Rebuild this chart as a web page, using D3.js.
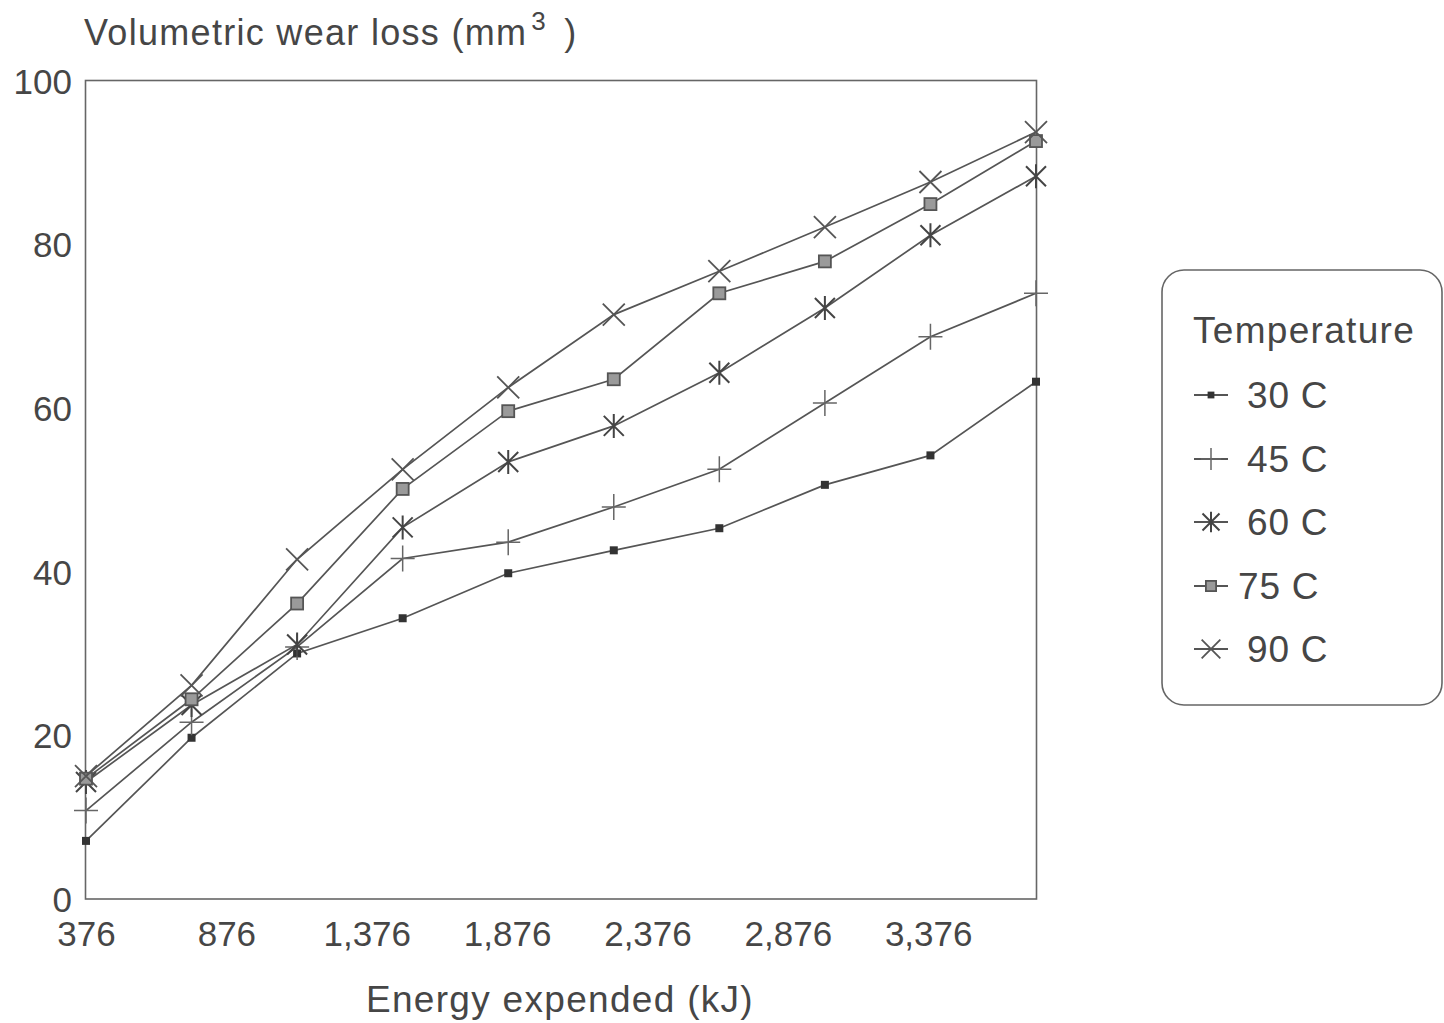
<!DOCTYPE html>
<html>
<head>
<meta charset="utf-8">
<script src="https://cdn.jsdelivr.net/npm/d3@7"></script>
<style>
  html, body { margin: 0; padding: 0; background: #ffffff; }
  svg text { font-family: "Liberation Sans", Arial, Helvetica, sans-serif; fill: #464646; }
</style>
</head>
<body>
<svg id="chart" width="1444" height="1023"></svg>
<script>
// ---- data ----
const energy = [376, 752, 1128, 1504, 1880, 2256, 2632, 3008, 3384, 3760];
const xTickValues = [376, 876, 1376, 1876, 2376, 2876, 3376];
const yTickValues = [0, 20, 40, 60, 80, 100];
const seriesNames = ["30 C", "45 C", "60 C", "75 C", "90 C"];
const markerTypes = ["smallSquare", "plus", "asterisk", "graySquare", "cross"];
const wear30 = [7.1, 19.7, 30.0, 34.3, 39.8, 42.6, 45.3, 50.6, 54.2, 63.2];
const wear45 = [10.8, 21.6, 30.8, 41.6, 43.6, 47.9, 52.5, 60.6, 68.7, 74.0];
const wear60 = [14.3, 23.7, 31.1, 45.4, 53.4, 57.8, 64.3, 72.2, 81.1, 88.3];
const wear75 = [14.7, 24.4, 36.1, 50.1, 59.6, 63.5, 74.0, 77.9, 84.9, 92.6];
const wear90 = [15.0, 26.1, 41.5, 52.5, 62.5, 71.4, 76.7, 82.1, 87.6, 93.7];
const allSeries = [wear30, wear45, wear60, wear75, wear90];

(function () {
// ---- layout ----
const svg = d3.select("#chart");
const pLeft = 85.5, pRight = 1036.5, pTop = 80.5, pBottom = 899;
const x = d3.scaleLinear().domain([376, 3760]).range([pLeft + 0.5, pRight - 0.5]);
const y = d3.scaleLinear().domain([0, 100]).range([pBottom, pTop]);
const lineColor = "#555";

// frame
svg.append("rect")
  .attr("x", pLeft).attr("y", pTop)
  .attr("width", pRight - pLeft).attr("height", pBottom - pTop)
  .attr("fill", "none").attr("stroke", "#666").attr("stroke-width", 1.6);

// x axis labels
const xAxis = d3.axisBottom(x).tickValues(xTickValues).tickSize(0).tickFormat(d3.format(","));
const gx = svg.append("g").attr("transform", `translate(0,${pBottom})`).call(xAxis);
gx.select(".domain").remove();
gx.selectAll("text").attr("font-size", 35).attr("dy", null).attr("y", 47)
  .style("font-family", "'Liberation Sans', Arial, sans-serif").attr("fill", "#464646");

// y axis labels
const yAxis = d3.axisLeft(y).tickValues(yTickValues).tickSize(0).tickFormat(d3.format("d"));
const gy = svg.append("g").attr("transform", `translate(72,0)`).call(yAxis);
gy.select(".domain").remove();
gy.selectAll("text").attr("font-size", 35).attr("x", 0).attr("dy", "0.36em")
  .attr("text-anchor", "end")
  .style("font-family", "'Liberation Sans', Arial, sans-serif").attr("fill", "#464646");

// titles
const yTitle = svg.append("text").attr("x", 84).attr("y", 45).attr("font-size", 36)
  .attr("letter-spacing", 1.3);
yTitle.append("tspan").text("Volumetric wear loss (mm");
yTitle.append("tspan").attr("font-size", 26).attr("dx", 4).attr("dy", -15).text("3");
yTitle.append("tspan").attr("dx", 6).attr("dy", 15).text(" )");

svg.append("text").attr("x", 560).attr("y", 1012).attr("text-anchor", "middle")
  .attr("font-size", 37).attr("letter-spacing", 1.3).text("Energy expended (kJ)");

// marker drawing
function drawMarker(g, type, cx, cy, scale = 1) {
  const s = scale;
  if (type === "smallSquare") {
    g.append("rect").attr("x", cx - 4 * s).attr("y", cy - 4 * s)
      .attr("width", 8 * s).attr("height", 8 * s).attr("fill", "#333");
  } else if (type === "plus") {
    g.append("path").attr("d", `M${cx - 12 * s},${cy}H${cx + 12 * s}M${cx},${cy - 13 * s}V${cy + 13 * s}`)
      .attr("stroke", "#666").attr("stroke-width", 1.5).attr("fill", "none");
  } else if (type === "asterisk") {
    const a = 10 * s;
    g.append("path").attr("d", `M${cx - a},${cy - a}L${cx + a},${cy + a}M${cx - a},${cy + a}L${cx + a},${cy - a}M${cx},${cy - 12 * s}V${cy + 12 * s}`)
      .attr("stroke", "#444").attr("stroke-width", 2).attr("fill", "none");
  } else if (type === "graySquare") {
    g.append("rect").attr("x", cx - 6 * s).attr("y", cy - 6 * s)
      .attr("width", 12 * s).attr("height", 12 * s)
      .attr("fill", "#9a9a9a").attr("stroke", "#555").attr("stroke-width", 1.8);
  } else if (type === "cross") {
    const a = 11 * s;
    g.append("path").attr("d", `M${cx - a},${cy - a}L${cx + a},${cy + a}M${cx - a},${cy + a}L${cx + a},${cy - a}`)
      .attr("stroke", "#555").attr("stroke-width", 1.8).attr("fill", "none");
  }
}

// series
const line = d3.line().x((d, i) => x(energy[i])).y(d => y(d));
allSeries.forEach((vals, si) => {
  const g = svg.append("g");
  g.append("path").datum(vals).attr("d", line)
    .attr("fill", "none").attr("stroke", lineColor).attr("stroke-width", 1.7);
  vals.forEach((v, i) => drawMarker(g, markerTypes[si], x(energy[i]), y(v)));
});

// legend
const lg = svg.append("g");
lg.append("rect").attr("x", 1162).attr("y", 270).attr("width", 280).attr("height", 435)
  .attr("rx", 22).attr("fill", "#fff").attr("stroke", "#666").attr("stroke-width", 1.6);
lg.append("text").attr("x", 1193).attr("y", 343).attr("font-size", 37)
  .attr("letter-spacing", 1.3).text("Temperature");
const rowY = [395, 459, 522, 586, 649];
const textX = [1247, 1247, 1247, 1238, 1247];
seriesNames.forEach((name, i) => {
  const cy = rowY[i];
  lg.append("line").attr("x1", 1194).attr("x2", 1228).attr("y1", cy).attr("y2", cy)
    .attr("stroke", lineColor).attr("stroke-width", 1.8);
  drawMarker(lg, markerTypes[i], 1211, cy, 0.85);
  lg.append("text").attr("x", textX[i]).attr("y", cy).attr("dy", "0.36em")
    .attr("font-size", 37).attr("letter-spacing", 0.8).text(name);
});
})();
</script>
</body>
</html>
